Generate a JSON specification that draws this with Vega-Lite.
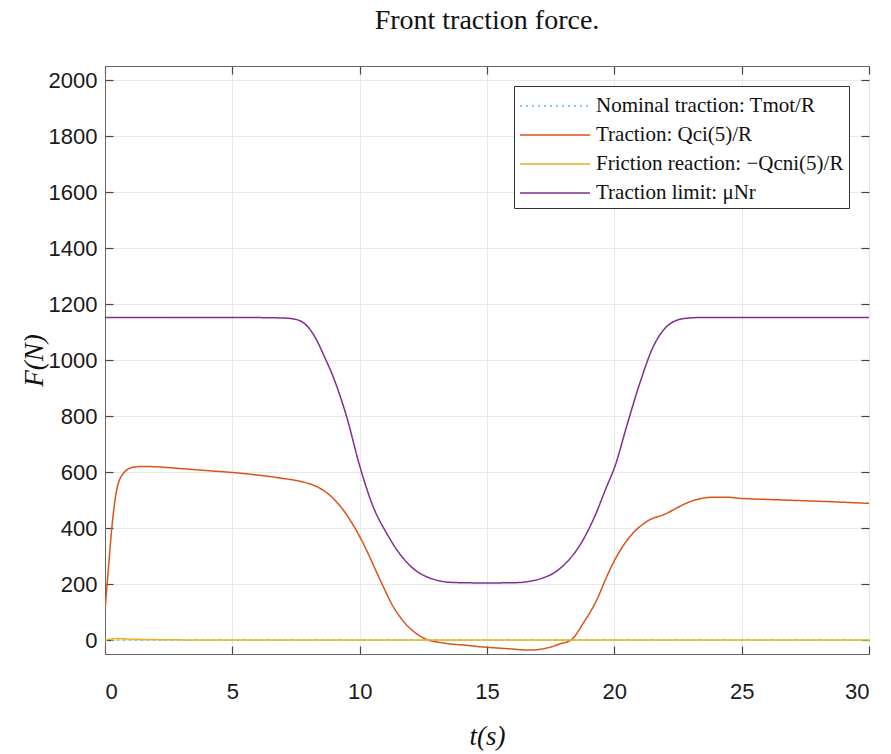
{
  "$schema": "https://vega.github.io/schema/vega-lite/v6.json",
  "width": 764,
  "height": 588,
  "autosize": {"type": "none"},
  "padding": {"left": 105, "top": 66, "right": 22, "bottom": 100},
  "background": "white",
  "title": {
    "text": "Front traction force.",
    "font": "Liberation Serif",
    "fontSize": 28,
    "fontWeight": "normal",
    "color": "#111111",
    "anchor": "middle",
    "offset": 30
  },
  "config": {
    "view": {"stroke": "#666666", "strokeWidth": 1},
    "axis": {
      "labelFont": "Liberation Sans",
      "labelFontSize": 22,
      "labelColor": "#1a1a1a",
      "titleFont": "Liberation Serif",
      "titleFontStyle": "italic",
      "titleFontWeight": "normal",
      "titleFontSize": 27,
      "titleColor": "#111111",
      "domainColor": "#666666",
      "tickColor": "#444444",
      "tickSize": -8,
      "tickWidth": 1.2,
      "gridColor": "#e8e8e8",
      "gridWidth": 1
    }
  },
  "datasets": {
    "forces": [
      {"series": "Nominal traction: Tmot/R", "t": 0, "F": 0},
      {"series": "Nominal traction: Tmot/R", "t": 30, "F": 0},

      {"series": "Traction: Qci(5)/R", "t": 0, "F": 107},
      {"series": "Traction: Qci(5)/R", "t": 0.13, "F": 250},
      {"series": "Traction: Qci(5)/R", "t": 0.26, "F": 393},
      {"series": "Traction: Qci(5)/R", "t": 0.46, "F": 536},
      {"series": "Traction: Qci(5)/R", "t": 0.72, "F": 595},
      {"series": "Traction: Qci(5)/R", "t": 1.11, "F": 617},
      {"series": "Traction: Qci(5)/R", "t": 1.5, "F": 620},
      {"series": "Traction: Qci(5)/R", "t": 1.9, "F": 619},
      {"series": "Traction: Qci(5)/R", "t": 3, "F": 612},
      {"series": "Traction: Qci(5)/R", "t": 4, "F": 605},
      {"series": "Traction: Qci(5)/R", "t": 5.04, "F": 598},
      {"series": "Traction: Qci(5)/R", "t": 6, "F": 589},
      {"series": "Traction: Qci(5)/R", "t": 7, "F": 577},
      {"series": "Traction: Qci(5)/R", "t": 7.6, "F": 568},
      {"series": "Traction: Qci(5)/R", "t": 8.18, "F": 553},
      {"series": "Traction: Qci(5)/R", "t": 8.6, "F": 533},
      {"series": "Traction: Qci(5)/R", "t": 8.96, "F": 506},
      {"series": "Traction: Qci(5)/R", "t": 9.3, "F": 471},
      {"series": "Traction: Qci(5)/R", "t": 9.62, "F": 429},
      {"series": "Traction: Qci(5)/R", "t": 10.27, "F": 321},
      {"series": "Traction: Qci(5)/R", "t": 10.6, "F": 255},
      {"series": "Traction: Qci(5)/R", "t": 10.93, "F": 190},
      {"series": "Traction: Qci(5)/R", "t": 11.25, "F": 130},
      {"series": "Traction: Qci(5)/R", "t": 11.58, "F": 83},
      {"series": "Traction: Qci(5)/R", "t": 11.9, "F": 48},
      {"series": "Traction: Qci(5)/R", "t": 12.24, "F": 22},
      {"series": "Traction: Qci(5)/R", "t": 12.63, "F": 2},
      {"series": "Traction: Qci(5)/R", "t": 13.1, "F": -8},
      {"series": "Traction: Qci(5)/R", "t": 13.55, "F": -14},
      {"series": "Traction: Qci(5)/R", "t": 14.2, "F": -19},
      {"series": "Traction: Qci(5)/R", "t": 14.72, "F": -24},
      {"series": "Traction: Qci(5)/R", "t": 15.0, "F": -26},
      {"series": "Traction: Qci(5)/R", "t": 15.8, "F": -31},
      {"series": "Traction: Qci(5)/R", "t": 16.69, "F": -36},
      {"series": "Traction: Qci(5)/R", "t": 17.1, "F": -33},
      {"series": "Traction: Qci(5)/R", "t": 17.47, "F": -26},
      {"series": "Traction: Qci(5)/R", "t": 17.86, "F": -14},
      {"series": "Traction: Qci(5)/R", "t": 18.3, "F": 0},
      {"series": "Traction: Qci(5)/R", "t": 18.78, "F": 60},
      {"series": "Traction: Qci(5)/R", "t": 19.31, "F": 143},
      {"series": "Traction: Qci(5)/R", "t": 19.7, "F": 226},
      {"series": "Traction: Qci(5)/R", "t": 20.09, "F": 298},
      {"series": "Traction: Qci(5)/R", "t": 20.61, "F": 369},
      {"series": "Traction: Qci(5)/R", "t": 21.27, "F": 423},
      {"series": "Traction: Qci(5)/R", "t": 22.05, "F": 452},
      {"series": "Traction: Qci(5)/R", "t": 22.5, "F": 474},
      {"series": "Traction: Qci(5)/R", "t": 22.97, "F": 494},
      {"series": "Traction: Qci(5)/R", "t": 23.4, "F": 505},
      {"series": "Traction: Qci(5)/R", "t": 23.88, "F": 510},
      {"series": "Traction: Qci(5)/R", "t": 24.4, "F": 510},
      {"series": "Traction: Qci(5)/R", "t": 24.93, "F": 506},
      {"series": "Traction: Qci(5)/R", "t": 26, "F": 502},
      {"series": "Traction: Qci(5)/R", "t": 27.55, "F": 497},
      {"series": "Traction: Qci(5)/R", "t": 29, "F": 492},
      {"series": "Traction: Qci(5)/R", "t": 30, "F": 488},

      {"series": "Friction reaction: −Qcni(5)/R", "t": 0, "F": 0},
      {"series": "Friction reaction: −Qcni(5)/R", "t": 0.2, "F": 3},
      {"series": "Friction reaction: −Qcni(5)/R", "t": 0.5, "F": 5},
      {"series": "Friction reaction: −Qcni(5)/R", "t": 1, "F": 3},
      {"series": "Friction reaction: −Qcni(5)/R", "t": 1.5, "F": 2},
      {"series": "Friction reaction: −Qcni(5)/R", "t": 2.5, "F": 1},
      {"series": "Friction reaction: −Qcni(5)/R", "t": 3.5, "F": 0},
      {"series": "Friction reaction: −Qcni(5)/R", "t": 30, "F": 0},

      {"series": "Traction limit: μNr", "t": 0, "F": 1152},
      {"series": "Traction limit: μNr", "t": 5, "F": 1152},
      {"series": "Traction limit: μNr", "t": 7, "F": 1150},
      {"series": "Traction limit: μNr", "t": 7.5, "F": 1145},
      {"series": "Traction limit: μNr", "t": 8, "F": 1115},
      {"series": "Traction limit: μNr", "t": 8.31, "F": 1071},
      {"series": "Traction limit: μNr", "t": 8.6, "F": 1015},
      {"series": "Traction limit: μNr", "t": 8.96, "F": 940},
      {"series": "Traction limit: μNr", "t": 9.49, "F": 797},
      {"series": "Traction limit: μNr", "t": 10.01, "F": 619},
      {"series": "Traction limit: μNr", "t": 10.53, "F": 476},
      {"series": "Traction limit: μNr", "t": 11.06, "F": 381},
      {"series": "Traction limit: μNr", "t": 11.71, "F": 292},
      {"series": "Traction limit: μNr", "t": 12.2, "F": 248},
      {"series": "Traction limit: μNr", "t": 12.63, "F": 226},
      {"series": "Traction limit: μNr", "t": 13.1, "F": 212},
      {"series": "Traction limit: μNr", "t": 13.55, "F": 206},
      {"series": "Traction limit: μNr", "t": 14.5, "F": 204},
      {"series": "Traction limit: μNr", "t": 15.5, "F": 204},
      {"series": "Traction limit: μNr", "t": 16.2, "F": 205},
      {"series": "Traction limit: μNr", "t": 16.7, "F": 210},
      {"series": "Traction limit: μNr", "t": 17.2, "F": 222},
      {"series": "Traction limit: μNr", "t": 17.6, "F": 238},
      {"series": "Traction limit: μNr", "t": 18.1, "F": 275},
      {"series": "Traction limit: μNr", "t": 18.52, "F": 321},
      {"series": "Traction limit: μNr", "t": 19.17, "F": 429},
      {"series": "Traction limit: μNr", "t": 19.7, "F": 548},
      {"series": "Traction limit: μNr", "t": 20.02, "F": 619},
      {"series": "Traction limit: μNr", "t": 20.48, "F": 762},
      {"series": "Traction limit: μNr", "t": 21.0, "F": 917},
      {"series": "Traction limit: μNr", "t": 21.53, "F": 1048},
      {"series": "Traction limit: μNr", "t": 22.05, "F": 1119},
      {"series": "Traction limit: μNr", "t": 22.4, "F": 1140},
      {"series": "Traction limit: μNr", "t": 22.84, "F": 1149},
      {"series": "Traction limit: μNr", "t": 23.5, "F": 1152},
      {"series": "Traction limit: μNr", "t": 30, "F": 1152}
    ]
  },
  "layer": [
    {
      "data": {"name": "forces"},
      "mark": {"type": "line", "interpolate": "monotone", "strokeWidth": 1.5, "clip": true},
      "encoding": {
        "x": {
          "field": "t",
          "type": "quantitative",
          "scale": {"domain": [0, 30], "nice": false, "zero": false},
          "axis": {
            "orient": "bottom",
            "values": [0, 5, 10, 15, 20, 25, 30],
            "format": "d",
            "title": "t(s)",
            "labelPadding": 35,
            "titlePadding": 21,
            "grid": true
          }
        },
        "y": {
          "field": "F",
          "type": "quantitative",
          "scale": {"domain": [-50, 2050], "nice": false, "zero": false},
          "axis": {
            "orient": "left",
            "values": [0, 200, 400, 600, 800, 1000, 1200, 1400, 1600, 1800, 2000],
            "format": "d",
            "title": "F(N)",
            "labelPadding": 16,
            "titlePadding": 0,
            "grid": true
          }
        },
        "color": {
          "field": "series",
          "type": "nominal",
          "sort": null,
          "scale": {
            "domain": ["Nominal traction: Tmot/R", "Traction: Qci(5)/R", "Friction reaction: −Qcni(5)/R", "Traction limit: μNr"],
            "range": ["#4DBEEE", "#D95319", "#EDB120", "#7E2F8E"]
          },
          "legend": {
            "orient": "top-right",
            "offset": 20,
            "title": null,
            "symbolType": "M-2.5,0H2.5",
            "symbolSize": 784,
            "symbolOffset": 21,
            "symbolStrokeWidth": 1.5,
            "labelOffset": 26,
            "labelFont": "Liberation Serif",
            "labelFontSize": 21,
            "labelColor": "#111111",
            "labelLimit": 400,
            "strokeColor": "#333333",
            "fillColor": "white",
            "padding": 5,
            "rowPadding": 4
          }
        },
        "strokeDash": {
          "field": "series",
          "type": "nominal",
          "sort": null,
          "scale": {
            "domain": ["Nominal traction: Tmot/R", "Traction: Qci(5)/R", "Friction reaction: −Qcni(5)/R", "Traction limit: μNr"],
            "range": [[2, 4], [1, 0], [1, 0], [1, 0]]
          },
          "legend": {
            "orient": "top-right",
            "offset": 20,
            "title": null,
            "symbolType": "M-2.5,0H2.5",
            "symbolSize": 784,
            "symbolOffset": 21,
            "symbolStrokeWidth": 1.5,
            "labelOffset": 26,
            "labelFont": "Liberation Serif",
            "labelFontSize": 21,
            "labelColor": "#111111",
            "labelLimit": 400,
            "strokeColor": "#333333",
            "fillColor": "white",
            "padding": 5,
            "rowPadding": 4
          }
        }
      }
    },
    {
      "data": {"name": "forces"},
      "mark": {"type": "point", "opacity": 0},
      "encoding": {
        "x": {
          "field": "t",
          "type": "quantitative",
          "axis": {"orient": "top", "values": [0, 5, 10, 15, 20, 25, 30], "labels": false, "domain": false, "grid": false, "title": null}
        },
        "y": {
          "field": "F",
          "type": "quantitative",
          "axis": {"orient": "right", "values": [0, 200, 400, 600, 800, 1000, 1200, 1400, 1600, 1800, 2000], "labels": false, "domain": false, "grid": false, "title": null}
        }
      }
    }
  ],
  "resolve": {"axis": {"x": "independent", "y": "independent"}}
}
